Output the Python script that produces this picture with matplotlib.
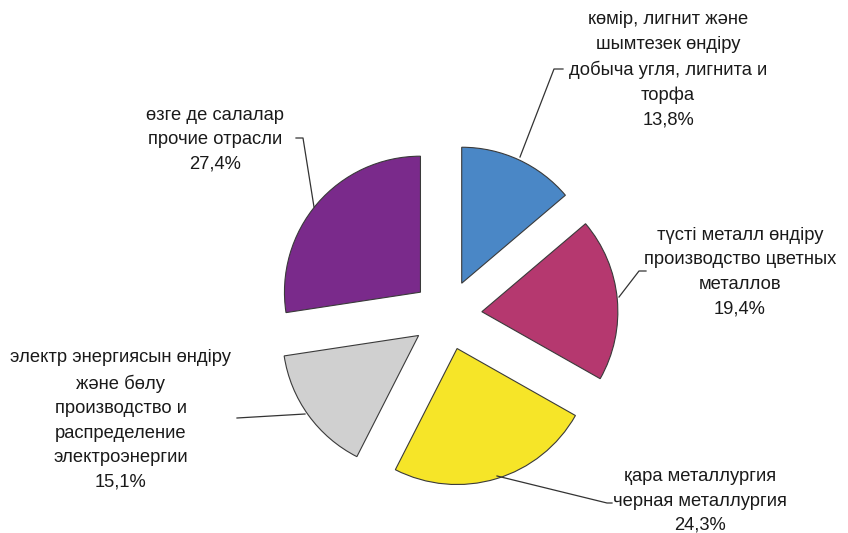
import matplotlib.pyplot as plt

# sector data (clockwise from top)
labels = [
    "көмір, лигнит және\nшымтезек өндіру\nдобыча угля, лигнита и\nторфа",
    "түсті металл өндіру\nпроизводство цветных\nметаллов",
    "қара металлургия\nчерная металлургия",
    "электр энергиясын өндіру\nжәне бөлу\nпроизводство и\nраспределение\nэлектроэнергии",
    "өзге де салалар\nпрочие отрасли",
]
values = [13.8, 19.4, 24.3, 15.1, 27.4]
pct_text = ["13,8%", "19,4%", "24,3%", "15,1%", "27,4%"]
colors = ["#4A87C6", "#B5386F", "#F6E528", "#D0D0D0", "#7A2A8B"]

W, H = 848, 533
fig = plt.figure(figsize=(W / 100, H / 100), dpi=100)
ax = fig.add_axes([0, 0, 1, 1])
ax.set_xlim(0, W)
ax.set_ylim(0, H)
ax.set_aspect("equal")
ax.axis("off")

# explode is in data units here (pixels)
cx, cy, r = 447, H - 315, 136
ax.pie(values, colors=colors, startangle=90, counterclock=False,
       center=(cx, cy), radius=r, explode=[35] * len(values),
       wedgeprops=dict(edgecolor="#3a3a3a", linewidth=0.8))
ax.set_xlim(0, W)
ax.set_ylim(0, H)

# label positions (image px) and leader lines
txt_pos = [(668, 70), (740, 272), (700, 501), (121, 420), (215, 140)]
leaders = [
    [(520, 157), (554, 69), (563, 69)],
    [(619, 297), (639, 271), (646, 271)],
    [(497, 476), (607, 503), (612, 503)],
    [(305, 414), (237, 418)],
    [(314, 207), (303, 138), (296, 138)],
]

for lab, p, (x, y), pts in zip(labels, pct_text, txt_pos, leaders):
    ax.text(x, H - y, lab + "\n" + p, ha="center", va="center",
            fontsize=13.2, family="Liberation Sans", color="#1a1a1a",
            linespacing=1.57)
    ax.plot([q[0] for q in pts], [H - q[1] for q in pts],
            color="#333333", lw=0.9)

fig.savefig("out.png", dpi=100)
